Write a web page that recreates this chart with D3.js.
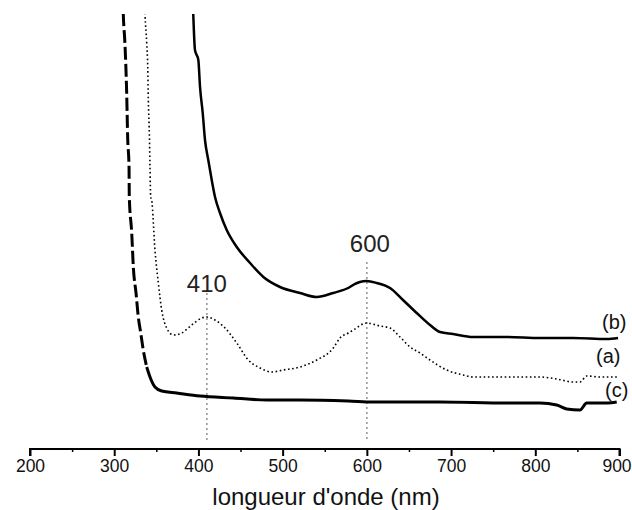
<!DOCTYPE html>
<html>
<head>
<meta charset="utf-8">
<script src="https://cdn.jsdelivr.net/npm/d3@7"></script>
<style>
  html, body { margin: 0; padding: 0; background: #fff; }
  svg { display: block; font-family: "Liberation Sans", Arial, sans-serif; }
</style>
</head>
<body>
<svg id="chart" width="632" height="510"></svg>
<script>
// ---- data (wavelength nm, absorbance a.u.) ----
const seriesA = [
  [335.0, 4.70], [336.6, 4.34], [338.6, 4.06], [339.8, 3.82], [340.5, 3.49], [341.7, 3.16],
  [342.5, 2.82], [343.3, 2.52], [344.5, 2.49], [348.4, 1.99], [352.4, 1.66], [356.4, 1.39],
  [362.3, 1.21], [370.2, 1.14], [380.1, 1.16], [392.0, 1.24], [403.9, 1.31], [409.8, 1.32],
  [419.7, 1.29], [431.6, 1.21], [445.5, 1.06], [459.2, 0.89], [473.1, 0.81], [487.0, 0.77],
  [500.8, 0.79], [520.6, 0.82], [540.5, 0.89], [560.2, 1.01], [568.1, 1.11], [578.0, 1.16],
  [583.9, 1.19], [599.8, 1.26], [615.6, 1.23], [627.5, 1.21], [639.4, 1.12], [651.3, 1.02],
  [663.1, 0.96], [675.0, 0.89], [694.8, 0.79], [714.5, 0.74], [726.4, 0.72], [766.1, 0.72],
  [805.6, 0.72], [825.4, 0.70], [845.2, 0.67], [853.1, 0.67], [861.1, 0.73], [876.9, 0.72],
  [898.3, 0.72]
];
const seriesB = [
  [392.5, 4.70], [393.9, 4.34], [395.9, 3.99], [399.9, 3.89], [401.9, 3.62], [405.1, 3.36],
  [407.8, 3.09], [411.7, 2.89], [415.8, 2.69], [419.7, 2.52], [425.6, 2.36], [433.6, 2.19],
  [445.5, 2.02], [461.3, 1.86], [477.1, 1.72], [496.9, 1.62], [520.6, 1.56], [540.5, 1.52],
  [559.8, 1.56], [580.0, 1.62], [583.6, 1.64], [599.8, 1.68], [611.7, 1.66], [627.5, 1.61],
  [642.9, 1.49], [659.2, 1.36], [675.0, 1.24], [686.9, 1.17], [702.3, 1.15], [726.1, 1.12],
  [766.1, 1.12], [805.6, 1.11], [844.8, 1.11], [884.8, 1.10], [898.3, 1.11]
];
const seriesCSteep = [
  [309.5, 4.70], [310.8, 4.34], [312.8, 4.04], [314.8, 3.56], [316.0, 3.11], [317.6, 2.82],
  [317.9, 2.52], [320.8, 2.16], [322.7, 1.82], [325.9, 1.56], [328.6, 1.32], [331.5, 1.16],
  [334.5, 0.99], [338.6, 0.82]
];
const seriesCFlat = [
  [338.6, 0.82], [342.5, 0.72], [348.4, 0.62], [356.4, 0.58], [374.2, 0.56],
  [401.9, 0.53], [441.4, 0.51], [481.1, 0.49], [520.6, 0.49], [578.0, 0.48], [607.7, 0.47],
  [686.9, 0.47], [766.1, 0.46], [805.6, 0.46], [825.4, 0.44], [837.3, 0.40], [853.1, 0.39],
  [861.1, 0.46], [884.8, 0.46], [896.7, 0.47]
];
const xTicks = [200, 300, 400, 500, 600, 700, 800, 900];
const xMinorTicks = [250, 350, 450, 550, 650, 750, 850];
const peakMarks = [410, 600];
const peakLabels = ["410", "600"];
const peakLabelValues = [1.57, 1.97];   // label baseline heights (a.u.)
const peakLineTops = [1.56, 1.87];      // top of dotted guide (a.u.)
const seriesNames = ["(b)", "(a)", "(c)"];
const seriesLabelValues = [1.20, 0.86, 0.52];
const xTitle = "longueur d'onde (nm)";

// ---- layout ----
const svg = d3.select("#chart");
const x = d3.scaleLinear().domain([200, 900]).range([30, 619.5]);
const y = d3.scaleLinear().domain([0, 4.49]).range([449, 0]);

svg.append("defs").append("clipPath").attr("id", "plotclip")
  .append("rect").attr("x", 30).attr("y", 14).attr("width", 600).attr("height", 435);

// dotted guides
peakMarks.forEach((p, i) => {
  svg.append("line")
    .attr("x1", x(p)).attr("x2", x(p))
    .attr("y1", y(peakLineTops[i])).attr("y2", 441)
    .attr("stroke", "#999").attr("stroke-width", 1.6)
    .attr("stroke-dasharray", "2,3");
  svg.append("text")
    .attr("x", x(p) + (i === 1 ? 3 : 0)).attr("y", y(peakLabelValues[i]))
    .attr("text-anchor", "middle")
    .attr("font-size", 24).attr("fill", "#222")
    .text(peakLabels[i]);
});

const line = d3.line().curve(d3.curveMonotoneX).x(d => x(d[0])).y(d => y(d[1]));
const g = svg.append("g").attr("clip-path", "url(#plotclip)");

g.append("path").datum(seriesCSteep).attr("d", line)
  .attr("fill", "none").attr("stroke", "#000").attr("stroke-width", 3)
  .attr("stroke-dasharray", "13,4");
g.append("path").datum(seriesCFlat).attr("d", line)
  .attr("fill", "none").attr("stroke", "#000").attr("stroke-width", 3)
  .attr("stroke-linejoin", "round");
g.append("path").datum(seriesA).attr("d", line)
  .attr("fill", "none").attr("stroke", "#000").attr("stroke-width", 1.6)
  .attr("stroke-dasharray", "1.6,2.6");
g.append("path").datum(seriesB).attr("d", line)
  .attr("fill", "none").attr("stroke", "#000").attr("stroke-width", 2.5)
  .attr("stroke-linejoin", "round");

// series labels
seriesNames.forEach((n, i) => {
  svg.append("text")
    .attr("x", i === 1 ? 596 : (i === 0 ? 602 : 605))
    .attr("y", y(seriesLabelValues[i]))
    .attr("font-size", 20).attr("fill", "#111")
    .text(n);
});

// x axis
const axis = d3.axisBottom(x).tickValues(xTicks).tickSize(7).tickPadding(4)
  .tickFormat(d3.format("d"));
const ax = svg.append("g").attr("transform", "translate(0,449)").call(axis);
ax.select(".domain").attr("stroke", "#000").attr("stroke-width", 2)
  .attr("d", `M${x(200)},7V0H${x(900)}V7`);
ax.selectAll(".tick line").attr("stroke", "#000").attr("stroke-width", 2);
ax.selectAll(".tick text").attr("font-size", 17.5).attr("fill", "#111")
  .attr("font-family", "'Liberation Sans', Arial, sans-serif")
  .attr("dx", d => d === 900 ? -3 : 0);

const minor = d3.axisBottom(x).tickValues(xMinorTicks).tickSize(3).tickFormat("");
const mx = svg.append("g").attr("transform", "translate(0,449)").call(minor);
mx.select(".domain").remove();
mx.selectAll(".tick line").attr("stroke", "#000").attr("stroke-width", 1.5);

svg.append("text")
  .attr("x", 326).attr("y", 505)
  .attr("text-anchor", "middle")
  .attr("font-size", 24).attr("fill", "#111")
  .text(xTitle);
</script>
</body>
</html>
